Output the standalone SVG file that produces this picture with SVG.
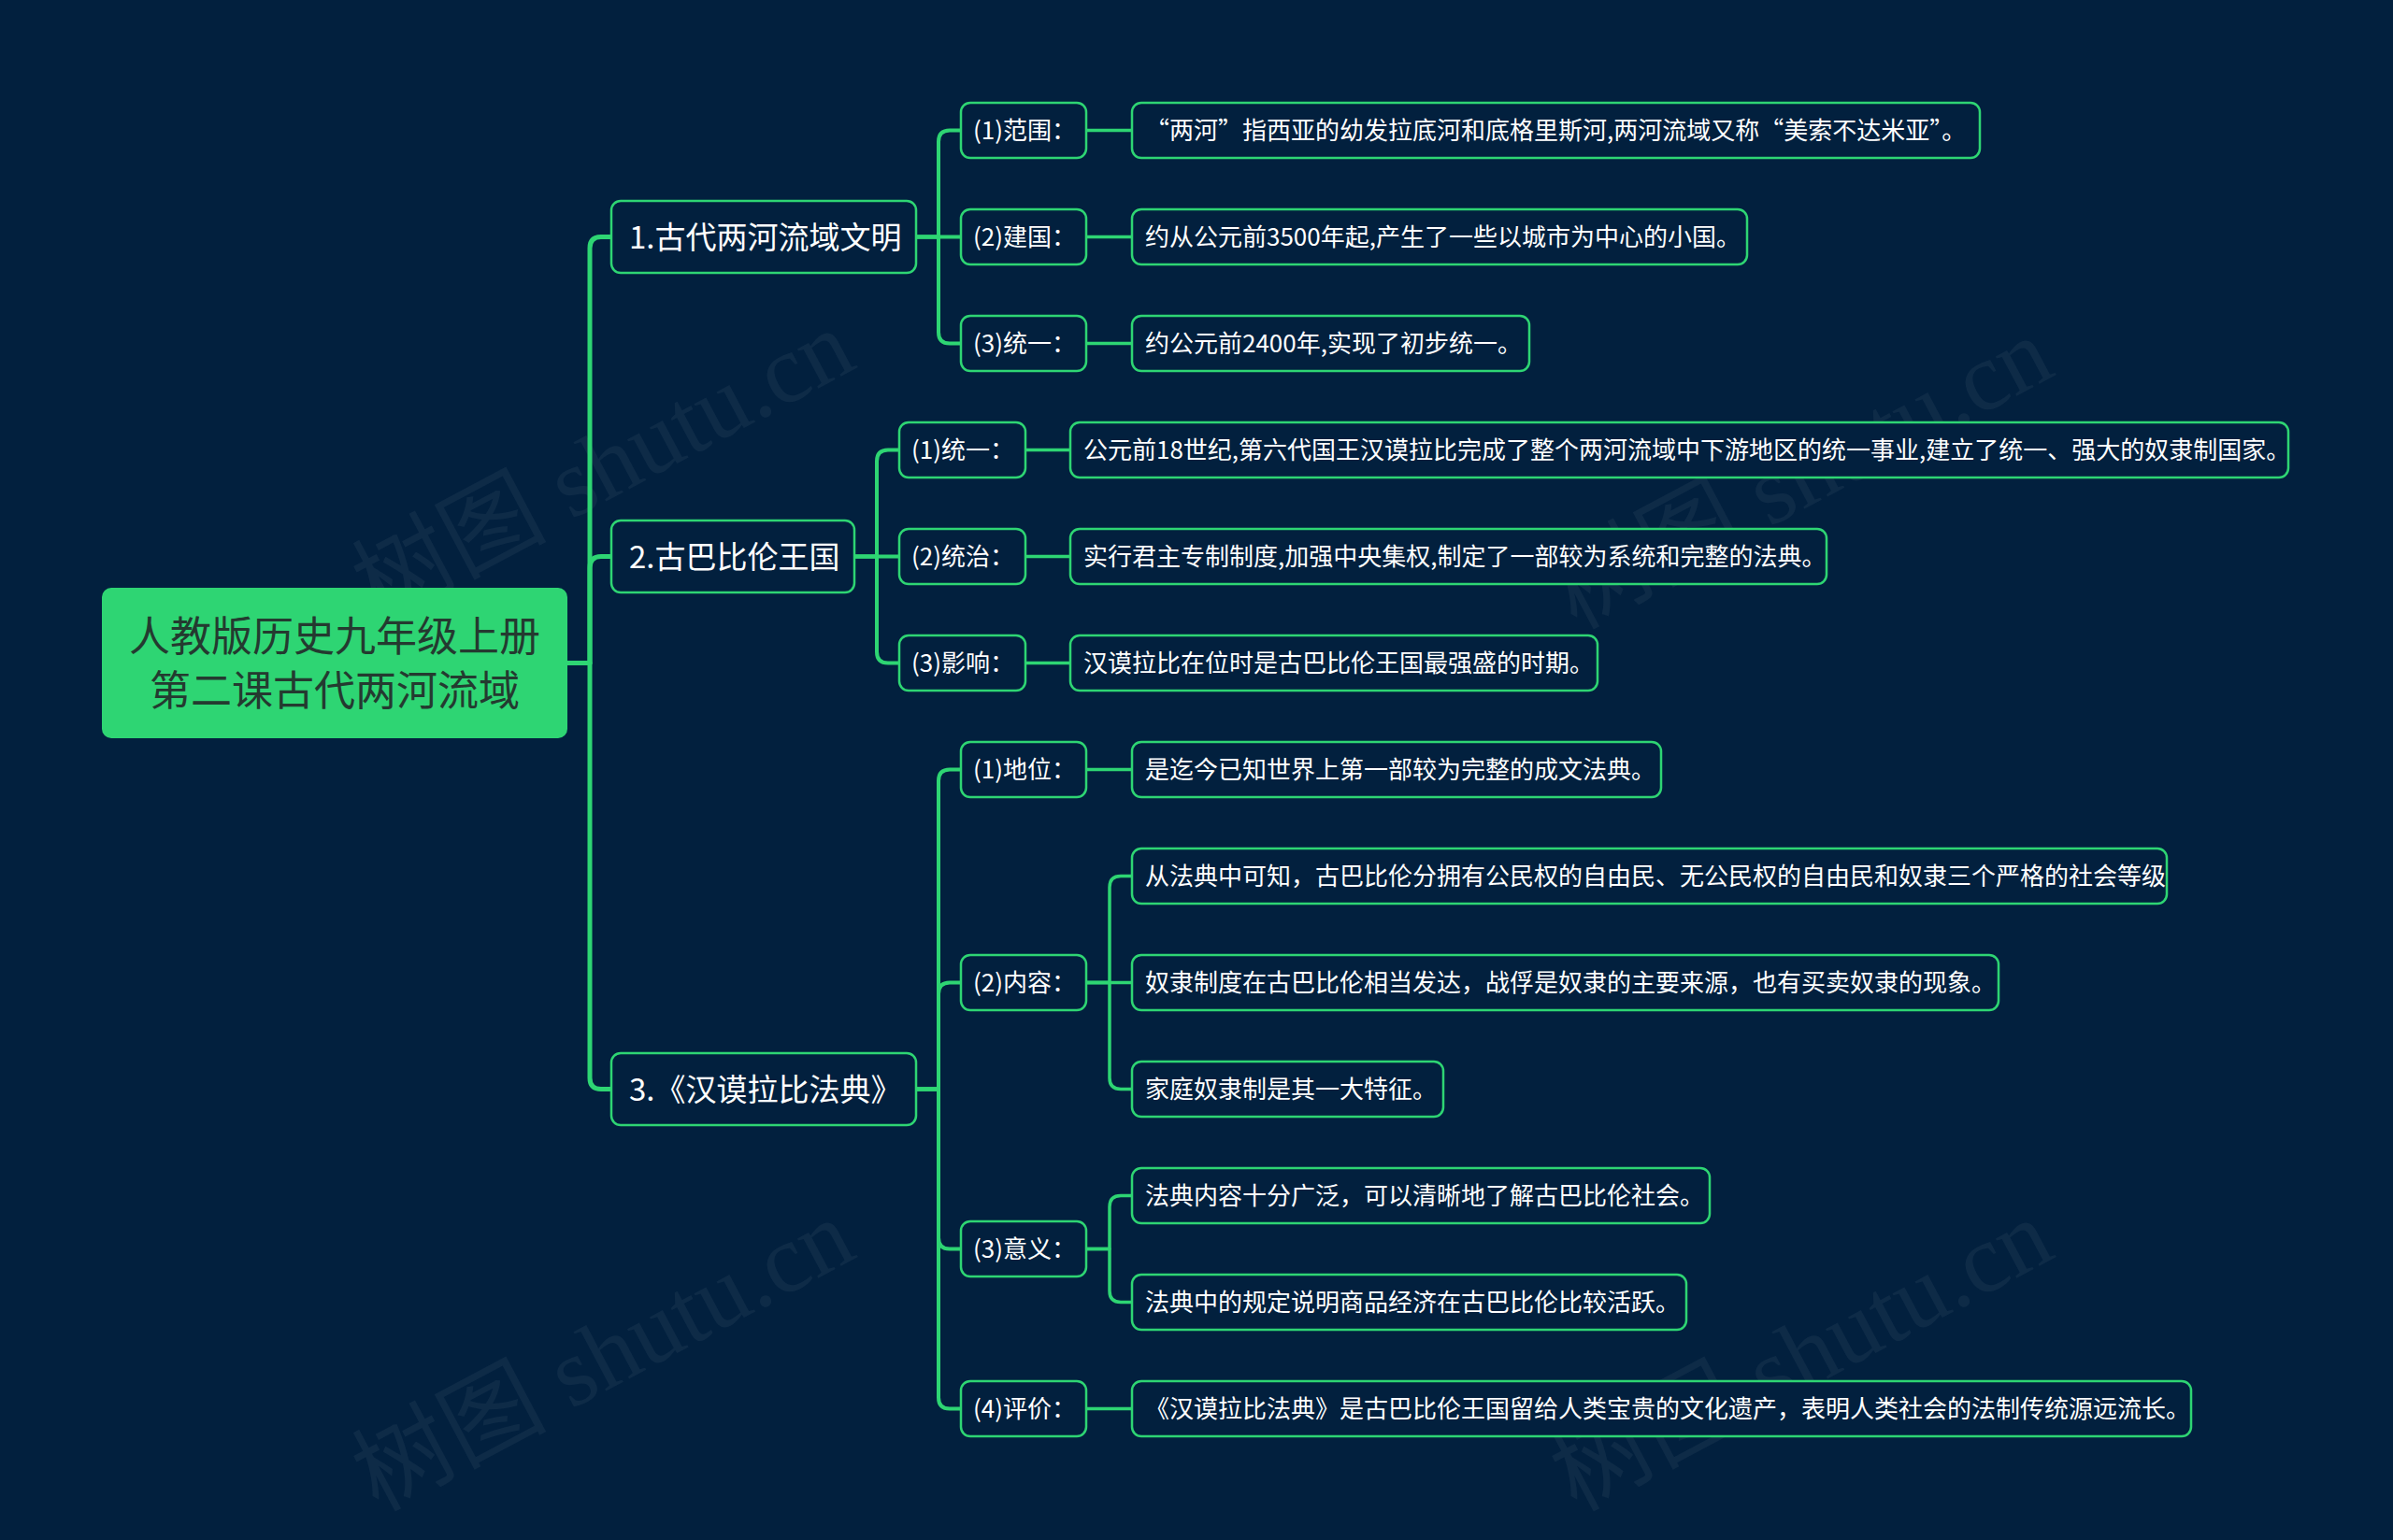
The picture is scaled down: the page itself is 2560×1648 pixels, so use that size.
<svg xmlns="http://www.w3.org/2000/svg" width="2560" height="1648" viewBox="0 0 2560 1648">
<style>
.bg{fill:#02203e}
.c{fill:none;stroke:#2ed573;stroke-linecap:round;stroke-linejoin:round}
.c1{stroke-width:5}
.c2{stroke-width:4}
.c3{stroke-width:3.5}
.box{fill:#02203e;stroke:#2ed573;stroke-width:2.5}
.root{fill:#2ed573}
.t{font-family:"Noto Sans CJK SC","Noto Sans",sans-serif;fill:#ffffff}
.rt{font-family:"Noto Sans CJK SC","Noto Sans",sans-serif;fill:#243a30;font-size:44px}
.l1{font-size:33px}
.l2{font-size:26px}
.wm{font-family:"Liberation Serif","Noto Sans CJK SC",serif;font-size:104px;fill:#ffffff;fill-opacity:0.05}
</style>
<rect class="bg" x="0" y="0" width="2560" height="1648"/>
<g id="watermarks">
<text class="wm" transform="translate(645,498) rotate(-28)" text-anchor="middle" dominant-baseline="central">树图 shutu.cn</text>
<text class="wm" transform="translate(1927,506) rotate(-28)" text-anchor="middle" dominant-baseline="central">树图 shutu.cn</text>
<text class="wm" transform="translate(645,1450) rotate(-28)" text-anchor="middle" dominant-baseline="central">树图 shutu.cn</text>
<text class="wm" transform="translate(1927,1450) rotate(-28)" text-anchor="middle" dominant-baseline="central">树图 shutu.cn</text>
</g>
<g id="connectors">
<path class="c c1" d="M607 709.5 H631 V265.5 Q631 253.5 643 253.5 H654"/>
<path class="c c1" d="M607 709.5 H631 V607.5 Q631 595.5 643 595.5 H654"/>
<path class="c c1" d="M607 709.5 H631 V1153.5 Q631 1165.5 643 1165.5 H654"/>
<path class="c c2" d="M980 253.5 H1004 V151.5 Q1004 139.5 1016 139.5 H1028"/>
<path class="c c2" d="M980 253.5 H1028"/>
<path class="c c2" d="M980 253.5 H1004 V355.5 Q1004 367.5 1016 367.5 H1028"/>
<path class="c c2" d="M914 595.5 H938 V493.5 Q938 481.5 950 481.5 H962"/>
<path class="c c2" d="M914 595.5 H962"/>
<path class="c c2" d="M914 595.5 H938 V697.5 Q938 709.5 950 709.5 H962"/>
<path class="c c2" d="M980 1165.5 H1004 V835.5 Q1004 823.5 1016 823.5 H1028"/>
<path class="c c2" d="M980 1165.5 H1004 V1063.5 Q1004 1051.5 1016 1051.5 H1028"/>
<path class="c c2" d="M980 1165.5 H1004 V1324.5 Q1004 1336.5 1016 1336.5 H1028"/>
<path class="c c2" d="M980 1165.5 H1004 V1495.5 Q1004 1507.5 1016 1507.5 H1028"/>
<path class="c c3" d="M1162 139.5 H1211"/>
<path class="c c3" d="M1162 253.5 H1211"/>
<path class="c c3" d="M1162 367.5 H1211"/>
<path class="c c3" d="M1097 481.5 H1145"/>
<path class="c c3" d="M1097 595.5 H1145"/>
<path class="c c3" d="M1097 709.5 H1145"/>
<path class="c c3" d="M1162 823.5 H1211"/>
<path class="c c3" d="M1162 1051.5 H1187 V949.5 Q1187 937.5 1199 937.5 H1211"/>
<path class="c c3" d="M1162 1051.5 H1211"/>
<path class="c c3" d="M1162 1051.5 H1187 V1153.5 Q1187 1165.5 1199 1165.5 H1211"/>
<path class="c c3" d="M1162 1336.5 H1187 V1291.5 Q1187 1279.5 1199 1279.5 H1211"/>
<path class="c c3" d="M1162 1336.5 H1187 V1381.5 Q1187 1393.5 1199 1393.5 H1211"/>
<path class="c c3" d="M1162 1507.5 H1211"/>
</g>
<g id="root">
<rect class="root" x="109" y="629" width="498" height="161" rx="10"/>
<text class="rt" x="358" y="697" text-anchor="middle">人教版历史九年级上册</text>
<text class="rt" x="358" y="755" text-anchor="middle">第二课古代两河流域</text>
</g>
<g id="n1">
<rect class="box" x="654" y="215" width="326" height="77" rx="10"/>
<text class="t l1" x="673" y="265.5">1.古代两河流域文明</text>
</g>
<g id="n2">
<rect class="box" x="654" y="557" width="260" height="77" rx="10"/>
<text class="t l1" x="673" y="607.5">2.古巴比伦王国</text>
</g>
<g id="n3">
<rect class="box" x="654" y="1127" width="326" height="77" rx="10"/>
<text class="t l1" x="673" y="1177.5">3.《汉谟拉比法典》</text>
</g>
<g id="n1-1">
<rect class="box" x="1028" y="110" width="134" height="59" rx="10"/>
<text class="t l2" x="1041" y="149">(1)范围：</text>
</g>
<g id="n1-1-1">
<rect class="box" x="1211" y="110" width="907" height="59" rx="10"/>
<text class="t l2" x="1225" y="149">“两河”指西亚的幼发拉底河和底格里斯河,两河流域又称“美索不达米亚”。</text>
</g>
<g id="n1-2">
<rect class="box" x="1028" y="224" width="134" height="59" rx="10"/>
<text class="t l2" x="1041" y="263">(2)建国：</text>
</g>
<g id="n1-2-1">
<rect class="box" x="1211" y="224" width="658" height="59" rx="10"/>
<text class="t l2" x="1225" y="263">约从公元前3500年起,产生了一些以城市为中心的小国。</text>
</g>
<g id="n1-3">
<rect class="box" x="1028" y="338" width="134" height="59" rx="10"/>
<text class="t l2" x="1041" y="377">(3)统一：</text>
</g>
<g id="n1-3-1">
<rect class="box" x="1211" y="338" width="425" height="59" rx="10"/>
<text class="t l2" x="1225" y="377">约公元前2400年,实现了初步统一。</text>
</g>
<g id="n2-1">
<rect class="box" x="962" y="452" width="135" height="59" rx="10"/>
<text class="t l2" x="975" y="491">(1)统一：</text>
</g>
<g id="n2-1-1">
<rect class="box" x="1145" y="452" width="1303" height="59" rx="10"/>
<text class="t l2" x="1159" y="491">公元前18世纪,第六代国王汉谟拉比完成了整个两河流域中下游地区的统一事业,建立了统一、强大的奴隶制国家。</text>
</g>
<g id="n2-2">
<rect class="box" x="962" y="566" width="135" height="59" rx="10"/>
<text class="t l2" x="975" y="605">(2)统治：</text>
</g>
<g id="n2-2-1">
<rect class="box" x="1145" y="566" width="809" height="59" rx="10"/>
<text class="t l2" x="1159" y="605">实行君主专制制度,加强中央集权,制定了一部较为系统和完整的法典。</text>
</g>
<g id="n2-3">
<rect class="box" x="962" y="680" width="135" height="59" rx="10"/>
<text class="t l2" x="975" y="719">(3)影响：</text>
</g>
<g id="n2-3-1">
<rect class="box" x="1145" y="680" width="564" height="59" rx="10"/>
<text class="t l2" x="1159" y="719">汉谟拉比在位时是古巴比伦王国最强盛的时期。</text>
</g>
<g id="n3-1">
<rect class="box" x="1028" y="794" width="134" height="59" rx="10"/>
<text class="t l2" x="1041" y="833">(1)地位：</text>
</g>
<g id="n3-1-1">
<rect class="box" x="1211" y="794" width="566" height="59" rx="10"/>
<text class="t l2" x="1225" y="833">是迄今已知世界上第一部较为完整的成文法典。</text>
</g>
<g id="n3-2">
<rect class="box" x="1028" y="1022" width="134" height="59" rx="10"/>
<text class="t l2" x="1041" y="1061">(2)内容：</text>
</g>
<g id="n3-2-1">
<rect class="box" x="1211" y="908" width="1107" height="59" rx="10"/>
<text class="t l2" x="1225" y="947">从法典中可知，古巴比伦分拥有公民权的自由民、无公民权的自由民和奴隶三个严格的社会等级</text>
</g>
<g id="n3-2-2">
<rect class="box" x="1211" y="1022" width="927" height="59" rx="10"/>
<text class="t l2" x="1225" y="1061">奴隶制度在古巴比伦相当发达，战俘是奴隶的主要来源，也有买卖奴隶的现象。</text>
</g>
<g id="n3-2-3">
<rect class="box" x="1211" y="1136" width="333" height="59" rx="10"/>
<text class="t l2" x="1225" y="1175">家庭奴隶制是其一大特征。</text>
</g>
<g id="n3-3">
<rect class="box" x="1028" y="1307" width="134" height="59" rx="10"/>
<text class="t l2" x="1041" y="1346">(3)意义：</text>
</g>
<g id="n3-3-1">
<rect class="box" x="1211" y="1250" width="618" height="59" rx="10"/>
<text class="t l2" x="1225" y="1289">法典内容十分广泛，可以清晰地了解古巴比伦社会。</text>
</g>
<g id="n3-3-2">
<rect class="box" x="1211" y="1364" width="593" height="59" rx="10"/>
<text class="t l2" x="1225" y="1403">法典中的规定说明商品经济在古巴比伦比较活跃。</text>
</g>
<g id="n3-4">
<rect class="box" x="1028" y="1478" width="134" height="59" rx="10"/>
<text class="t l2" x="1041" y="1517">(4)评价：</text>
</g>
<g id="n3-4-1">
<rect class="box" x="1211" y="1478" width="1133" height="59" rx="10"/>
<text class="t l2" x="1225" y="1517">《汉谟拉比法典》是古巴比伦王国留给人类宝贵的文化遗产，表明人类社会的法制传统源远流长。</text>
</g>
</svg>
